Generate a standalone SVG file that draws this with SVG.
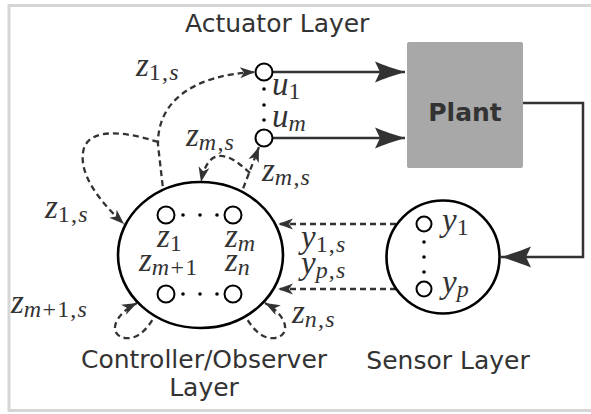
<svg xmlns="http://www.w3.org/2000/svg" width="591" height="414" viewBox="0 0 591 414">
<style>
.lbl{font-family:"DejaVu Sans","Liberation Sans",sans-serif;font-size:25px;fill:#333}
.plant{font-family:"DejaVu Sans","Liberation Sans",sans-serif;font-size:25px;font-weight:bold;fill:#333}
.m{font-family:"Liberation Serif","Times New Roman",serif;font-size:33px;fill:#333;font-style:italic}
.s{font-size:24px;font-style:normal;letter-spacing:1.2px}
.i{font-style:italic}
.solid{fill:none;stroke:#333;stroke-width:2.5}
.dash{fill:none;stroke:#333;stroke-width:2.3;stroke-dasharray:6 4}
.node{fill:#fff;stroke:#000;stroke-width:2}
.big{fill:#fff;stroke:#000;stroke-width:2.6}
.dot{fill:#000}
</style>
<defs>
<marker id="big" viewBox="-31 -11 32 22" markerWidth="32" markerHeight="22" refX="0" refY="0" orient="auto" markerUnits="userSpaceOnUse">
<path d="M0,0 C-10,-3 -22,-7 -30,-10.5 L-25,0 L-30,10.5 C-22,7 -10,3 0,0 Z" fill="#333"/>
</marker>
<marker id="sm" viewBox="-16 -6 17 12" markerWidth="17" markerHeight="12" refX="0" refY="0" orient="auto" markerUnits="userSpaceOnUse">
<path d="M0,0 L-15,-5.5 L-11,0 L-15,5.5 Z" fill="#333"/>
</marker>
</defs>
<rect x="9" y="5.5" width="600" height="405" fill="#fff" stroke="#d6d6d6" stroke-width="3"/>

<g id="connectors">
<path class="solid" d="M272.5,72 H405" marker-end="url(#big)"/>
<path class="solid" d="M272.5,138 H405" marker-end="url(#big)"/>
<path class="solid" d="M523,103 H583 V257 H501" marker-end="url(#big)"/>
<path class="dash" d="M416,224 H278" marker-end="url(#sm)"/>
<path class="dash" d="M416,289 H278" marker-end="url(#sm)"/>
<path class="dash" d="M165,206 L158,145 C157,100 195,75 255,72" marker-end="url(#sm)"/>
<path class="dash" d="M158,142 C130,133 92,126 84,148 C77,172 98,200 124,224" marker-end="url(#sm)"/>
<path class="dash" d="M236,207 L259,147" marker-end="url(#sm)"/>
<path class="dash" d="M250,173 C236,160 224,152 213,158 C206,163 203,172 201,182" marker-end="url(#sm)"/>
<path class="dash" d="M161,302 C152,325 140,340 125,338 C108,335 113,315 137,303" marker-end="url(#sm)"/>
<path class="dash" d="M239,302 C248,325 260,340 275,338 C292,335 287,315 265,303" marker-end="url(#sm)"/>
</g>

<g id="plant">
<rect x="407" y="42" width="116" height="126" rx="2" fill="#a8a8a8"/>
<text class="plant" x="465" y="121" text-anchor="middle">Plant</text>
</g>

<g id="actuator">
<text class="lbl" x="185" y="32">Actuator Layer</text>
<circle class="node" cx="264" cy="72" r="8.5"/>
<circle class="node" cx="264" cy="138" r="8.5"/>
<circle class="dot" cx="264" cy="89" r="1.8"/>
<circle class="dot" cx="264" cy="105" r="1.8"/>
<circle class="dot" cx="264" cy="120" r="1.8"/>
<text class="m" x="272" y="95">u<tspan class="s" dy="4">1</tspan></text>
<text class="m" x="272" y="127">u<tspan class="s i" dy="4">m</tspan></text>
</g>

<g id="controller">
<ellipse class="big" cx="200.5" cy="255" rx="82.5" ry="73"/>
<circle class="node" cx="166" cy="215" r="8.5"/>
<circle class="node" cx="233" cy="215" r="8.5"/>
<circle class="node" cx="166" cy="294" r="8.5"/>
<circle class="node" cx="233" cy="294" r="8.5"/>
<circle class="dot" cx="183" cy="215" r="1.8"/>
<circle class="dot" cx="200" cy="215" r="1.8"/>
<circle class="dot" cx="217" cy="215" r="1.8"/>
<circle class="dot" cx="183" cy="294" r="1.8"/>
<circle class="dot" cx="200" cy="294" r="1.8"/>
<circle class="dot" cx="217" cy="294" r="1.8"/>
<text class="m" x="157" y="247">z<tspan class="s" dy="4">1</tspan></text>
<text class="m" x="225" y="247">z<tspan class="s i" dy="4">m</tspan></text>
<text class="m" x="139" y="271">z<tspan class="s" dy="4"><tspan class="i">m</tspan>+1</tspan></text>
<text class="m" x="225" y="271">z<tspan class="s i" dy="4">n</tspan></text>
<text class="lbl" x="204" y="368" text-anchor="middle">Controller/Observer</text>
<text class="lbl" x="204" y="396" text-anchor="middle">Layer</text>
</g>

<g id="sensor">
<circle class="big" cx="443" cy="257" r="56.5"/>
<circle class="node" cx="424" cy="224" r="7.5"/>
<circle class="node" cx="424" cy="289" r="7.5"/>
<circle class="dot" cx="424" cy="242" r="1.8"/>
<circle class="dot" cx="424" cy="257" r="1.8"/>
<circle class="dot" cx="424" cy="272" r="1.8"/>
<text class="m" x="442" y="231">y<tspan class="s" dy="4">1</tspan></text>
<text class="m" x="442" y="293">y<tspan class="s i" dy="4">p</tspan></text>
<text class="lbl" x="448" y="369" text-anchor="middle">Sensor Layer</text>
</g>

<g id="labels">
<text class="m" x="136" y="76">z<tspan class="s" dy="4">1,<tspan class="i">s</tspan></tspan></text>
<text class="m" x="186" y="146">z<tspan class="s" dy="4"><tspan class="i">m</tspan>,<tspan class="i">s</tspan></tspan></text>
<text class="m" x="262" y="181">z<tspan class="s" dy="4"><tspan class="i">m</tspan>,<tspan class="i">s</tspan></tspan></text>
<text class="m" x="45" y="218">z<tspan class="s" dy="4">1,<tspan class="i">s</tspan></tspan></text>
<text class="m" x="11" y="313">z<tspan class="s" dy="4"><tspan class="i">m</tspan>+1,<tspan class="i">s</tspan></tspan></text>
<text class="m" x="292" y="323">z<tspan class="s" dy="4"><tspan class="i">n</tspan>,<tspan class="i">s</tspan></tspan></text>
<text class="m" x="301" y="248">y<tspan class="s" dy="4">1,<tspan class="i">s</tspan></tspan></text>
<text class="m" x="301" y="274">y<tspan class="s" dy="4"><tspan class="i">p</tspan>,<tspan class="i">s</tspan></tspan></text>
</g>
</svg>
